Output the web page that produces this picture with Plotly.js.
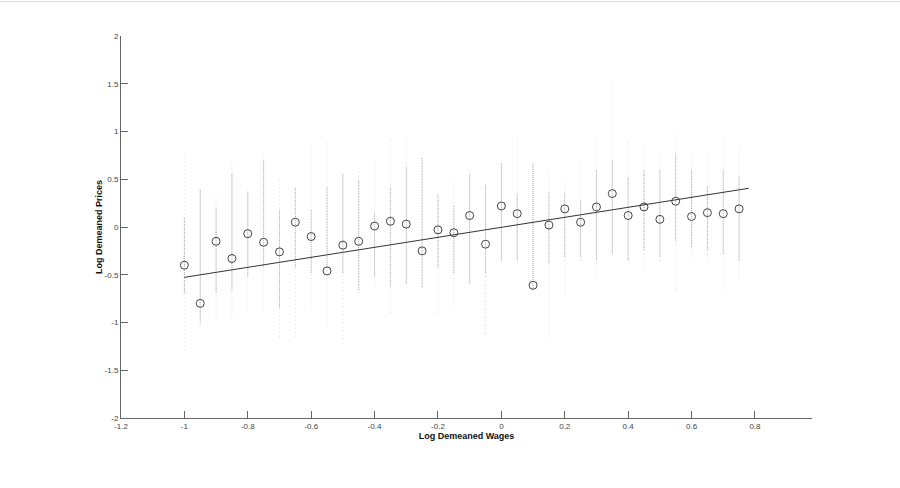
<!DOCTYPE html>
<html>
<head>
<meta charset="utf-8">
<script src="https://cdn.plot.ly/plotly-3.0.1.min.js"></script>
<style>html,body{margin:0;padding:0;background:#fff;}#chart{width:900px;height:488px;}</style>
</head>
<body>
<div id="chart"></div>
<script>
// Bin centres (log demeaned wages)
const wageBins = [-1,-0.95,-0.9,-0.85,-0.8,-0.75,-0.7,-0.65,-0.6,-0.55,-0.5,-0.45,-0.4,-0.35,-0.3,-0.25,-0.2,-0.15,-0.1,-0.05,0,0.05,0.1,0.15,0.2,0.25,0.3,0.35,0.4,0.45,0.5,0.55,0.6,0.65,0.7,0.75];
// Bin means (circles)
const binMeans = [-0.40,-0.80,-0.15,-0.33,-0.07,-0.16,-0.26,0.05,-0.10,-0.46,-0.19,-0.15,0.01,0.06,0.03,-0.25,-0.03,-0.06,0.12,-0.18,0.22,0.14,-0.61,0.02,0.19,0.05,0.21,0.35,0.12,0.21,0.08,0.27,0.11,0.15,0.14,0.19];
// Raw observation spread per bin: sparse outer range and dense core range
const outerLow  = [-1.29,-1.05,-0.97,-0.94,-0.87,-0.84,-1.15,-1.15,-0.84,-1.05,-1.22,-0.69,-0.63,-0.90,-0.63,-0.63,-0.90,-0.84,-0.59,-1.11,-0.35,-0.38,-0.66,-1.15,-0.69,-0.35,-0.55,-0.28,-0.38,-0.42,-0.35,-0.66,-0.31,-0.38,-0.66,-0.52];
const outerHigh = [0.73,0.42,0.31,0.70,0.39,0.77,0.52,0.42,0.84,0.91,0.56,0.63,0.70,0.94,0.94,0.73,0.35,0.49,0.60,0.46,0.70,0.94,0.67,0.60,0.49,0.70,0.94,1.51,0.91,0.84,0.77,0.98,0.77,0.77,0.91,0.84];
const coreLow   = [-0.69,-1.00,-0.69,-0.66,-0.52,-0.42,-0.84,-0.42,-0.48,-0.42,-0.48,-0.66,-0.52,-0.63,-0.59,-0.63,-0.42,-0.48,-0.59,-0.48,-0.35,-0.35,-0.66,-0.38,-0.31,-0.31,-0.35,-0.28,-0.35,-0.24,-0.31,-0.14,-0.21,-0.24,-0.28,-0.35];
const coreHigh  = [0.10,0.39,0.21,0.56,0.37,0.70,0.18,0.41,0.18,0.42,0.56,0.49,0.15,0.42,0.63,0.73,0.35,0.23,0.56,0.44,0.67,0.35,0.67,0.37,0.35,0.28,0.60,0.70,0.52,0.60,0.60,0.77,0.60,0.42,0.60,0.52];
// Fitted regression line end points
const fitX = [-1, 0.78];
const fitY = [-0.527, 0.405];

const xTickVals = [-1.2,-1,-0.8,-0.6,-0.4,-0.2,0,0.2,0.4,0.6,0.8];
const xTickText = ['-1.2','-1','-0.8','-0.6','-0.4','-0.2','0','0.2','0.4','0.6','0.8'];
const yTickVals = [-2,-1.5,-1,-0.5,0,0.5,1,1.5,2];
const yTickText = ['-2','-1.5','-1','-0.5','0','0.5','1','1.5','2'];

function segs(xs, lo, hi){
  const X=[],Y=[];
  xs.forEach((x,i)=>{X.push(x,x,null);Y.push(lo[i],hi[i],null);});
  return {x:X,y:Y};
}
const outer = segs(wageBins, outerLow, outerHigh);
const core = segs(wageBins, coreLow, coreHigh);

const traces = [
  {x:outer.x,y:outer.y,mode:'lines',line:{color:'#dcdcdc',width:1,dash:'1px,3px'},hoverinfo:'skip',connectgaps:false},
  {x:core.x,y:core.y,mode:'lines',line:{color:'#a8a8a8',width:1,dash:'1px,1px'},hoverinfo:'skip',connectgaps:false},
  {x:fitX,y:fitY,mode:'lines',line:{color:'#333',width:1}},
  {x:wageBins,y:binMeans,mode:'markers',marker:{symbol:'circle-open',size:8,color:'#444',line:{width:1,color:'#444'}}}
];

const axisFont = {family:'Arial, Liberation Sans, sans-serif',size:8,color:'#444'};
const layout = {
  width:900,height:488,
  margin:{l:121,r:88,t:36,b:70},
  paper_bgcolor:'#fff',plot_bgcolor:'#fff',
  showlegend:false,
  xaxis:{range:[-1.2,0.98],tickmode:'array',tickvals:xTickVals,ticktext:xTickText,
    showgrid:false,zeroline:false,showline:true,linecolor:'#666',linewidth:1,
    ticks:'inside',ticklen:7,tickcolor:'#666',tickfont:axisFont,
    title:{text:'<b>Log Demeaned Wages</b>',font:{family:'Arial, Liberation Sans, sans-serif',size:9,color:'#111'},standoff:2}},
  yaxis:{range:[-2,2],tickmode:'array',tickvals:yTickVals,ticktext:yTickText,
    showgrid:false,zeroline:false,showline:true,linecolor:'#666',linewidth:1,
    ticks:'inside',ticklen:7,tickcolor:'#666',tickfont:axisFont,
    title:{text:'<b>Log Demeaned Prices</b>',font:{family:'Arial, Liberation Sans, sans-serif',size:9,color:'#111'},standoff:0}},
  shapes:[{type:'line',xref:'paper',yref:'paper',x0:-0.2,x1:1.2,y0:1.09,y1:1.09,line:{color:'#ddd',width:1}}]
};
Plotly.newPlot('chart',traces,layout,{displayModeBar:false,staticPlot:true});
</script>
</body>
</html>
